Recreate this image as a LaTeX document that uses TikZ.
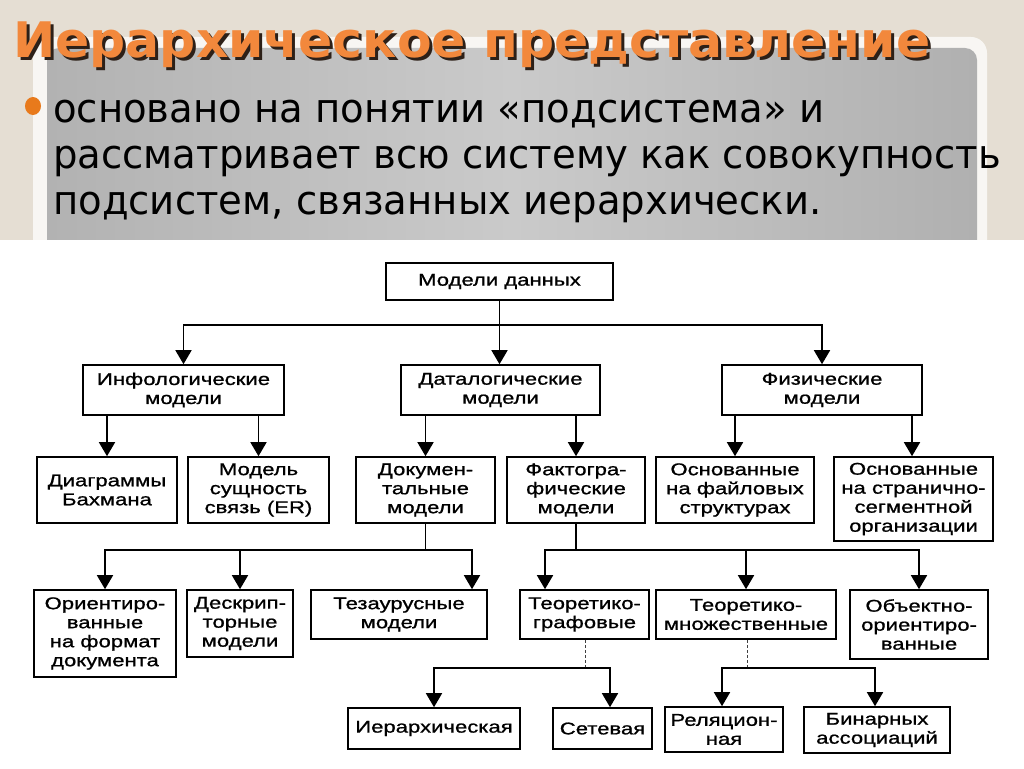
\documentclass[tikz,border=0pt]{standalone}
\usepackage{fontspec}
\setmainfont{DejaVu Sans}[FakeStretch=0.965]
\newfontfamily\tfont{DejaVu Sans}[FakeStretch=1.03]
\newfontfamily\dfont{Liberation Sans}[FakeStretch=1.3, FakeBold=1]
\usetikzlibrary{arrows.meta}
\definecolor{bgbeige}{RGB}{229,222,211}
\definecolor{titleorange}{RGB}{242,136,60}
\definecolor{titleshadow}{RGB}{45,32,24}
\definecolor{bulletorange}{RGB}{232,122,28}
\definecolor{panelA}{RGB}{178,178,178}
\definecolor{panelB}{RGB}{202,202,202}
\definecolor{panelC}{RGB}{176,176,176}
\newcommand{\shadowtitle}[1]{\rlap{\hspace{3pt}\raisebox{-3pt}{\textcolor{titleshadow}{#1}}}\textcolor{titleorange}{#1}}
\begin{document}
\begin{tikzpicture}[x=1pt,y=-1pt,
  box/.style={draw=black, line width=1.6pt, fill=white, inner sep=0pt, align=center,
              font=\dfont\fontsize{17}{19}\selectfont},
  arr/.style={line width=1.6pt, -{Triangle[width=16pt,length=14pt]}},
  ln/.style={line width=1.6pt},
  dsh/.style={line width=0.9pt, dash pattern=on 3pt off 2pt, draw=black!75},
  ttl/.style={anchor=base west, inner sep=0pt, font=\tfont\bfseries\fontsize{49}{55}\selectfont},
  btxt/.style={anchor=base west, inner sep=0pt, text=black, font=\fontsize{40}{46}\selectfont}]
\useasboundingbox (0,0) rectangle (1024,768);
% background
\fill[bgbeige] (0,0) rectangle (1024,768);
\fill[white, opacity=0.75, rounded corners=16pt] (33,37) rectangle (987,300);
\shade[left color=panelA, right color=panelC, middle color=panelB, rounded corners=12pt] (47,48) rectangle (977,300);
\fill[white] (0,240) rectangle (1024,768);
% title
\node[ttl] (title) at (13,57) {\shadowtitle{Иерархическое представление}};
% bullet
\fill[bulletorange] (33,106) ellipse (8pt and 9pt);
\node[btxt] (l1) at (53,122) {основано на понятии «подсистема» и};
\node[btxt] (l2) at (53,168) {рассматривает всю систему как совокупность};
\node[btxt] (l3) at (53,214) {подсистем, связанных иерархически.};
% boxes
\node[box, minimum width=227pt, minimum height=37pt] (top) at (499.5,281.5) {Модели данных};
\node[box, minimum width=201pt, minimum height=50pt] (info) at (183.5,390) {Инфологические\\модели};
\node[box, minimum width=199pt, minimum height=50pt] (data) at (500.5,390) {Даталогические\\модели};
\node[box, minimum width=200pt, minimum height=50pt] (phys) at (822,390) {Физические\\модели};
\node[box, minimum width=140pt, minimum height=66pt] (bach) at (107,490) {Диаграммы\\Бахмана};
\node[box, minimum width=141pt, minimum height=66pt] (er) at (258.5,490) {Модель\\сущность\\связь (ER)};
\node[box, minimum width=139pt, minimum height=66pt] (doc) at (425.5,490) {Докумен-\\тальные\\модели};
\node[box, minimum width=138pt, minimum height=66pt] (fact) at (576,490) {Фактогра-\\фические\\модели};
\node[box, minimum width=158pt, minimum height=66pt] (file) at (735,490) {Основанные\\на файловых\\структурах};
\node[box, minimum width=159pt, minimum height=84pt] (page) at (913.5,499) {Основанные\\на странично-\\сегментной\\организации};
\node[box, minimum width=142pt, minimum height=87pt] (orient) at (105,633.5) {Ориентиро-\\ванные\\на формат\\документа};
\node[box, minimum width=106pt, minimum height=67pt] (descr) at (240,623.5) {Дескрип-\\торные\\модели};
\node[box, minimum width=176pt, minimum height=49pt] (thes) at (399,614.5) {Тезаурусные\\модели};
\node[box, minimum width=129pt, minimum height=49pt] (graph) at (584.5,614.5) {Теоретико-\\графовые};
\node[box, minimum width=180pt, minimum height=49pt] (set) at (746,614.5) {Теоретико-\\множественные};
\node[box, minimum width=138pt, minimum height=69pt] (obj) at (919,624.5) {Объектно-\\ориентиро-\\ванные};
\node[box, minimum width=172pt, minimum height=41pt] (hier) at (434,728.5) {Иерархическая};
\node[box, minimum width=99pt, minimum height=41pt] (net) at (602.5,728.5) {Сетевая};
\node[box, minimum width=118pt, minimum height=45pt] (rel) at (724,729.5) {Реляцион-\\ная};
\node[box, minimum width=146pt, minimum height=46pt] (bin) at (877,730) {Бинарных\\ассоциаций};
% level 1 -> 2
\coordinate (j1) at (499.5,325);
\draw[ln] (top.south) -- (j1);
\draw[arr] (j1) -| (info.north);
\draw[arr] (j1) -| (phys.north);
\draw[arr] (j1) -- (j1 |- data.north);
% level 2 -> 3
\draw[arr] (bach.north |- info.south) -- (bach.north);
\draw[arr] (er.north |- info.south) -- (er.north);
\draw[arr] (doc.north |- data.south) -- (doc.north);
\draw[arr] (fact.north |- data.south) -- (fact.north);
\draw[arr] (file.north |- phys.south) -- (file.north);
\draw[arr] ([xshift=-1.5pt]page.north |- phys.south) -- ([xshift=-1.5pt]page.north);
% documentary
\coordinate (j2) at (425.5,550);
\draw[ln] (doc.south) -- (j2);
\draw[arr] (j2) -| (orient.north);
\draw[arr] (j2) -| (descr.north);
\draw[arr] (j2) -| ([xshift=73pt]thes.north);
% factographic
\coordinate (j3) at (576,550);
\draw[ln] (fact.south) -- (j3);
\draw[arr] (j3) -| ([xshift=-39.5pt]graph.north);
\draw[arr] (j3) -| (set.north);
\draw[arr] (j3) -| (obj.north);
% graph-theoretic
\coordinate (j4) at (585,668);
\draw[dsh] (graph.south -| j4) -- (j4);
\draw[arr] (j4) -| (hier.north);
\draw[arr] (j4) -| ([xshift=7.5pt]net.north);
% set-theoretic
\coordinate (j5) at (747,668);
\draw[dsh] (set.south -| j5) -- (j5);
\draw[arr] (j5) -| ([xshift=-2pt]rel.north);
\draw[arr] (j5) -| ([xshift=-2pt]bin.north);
\end{tikzpicture}
\end{document}
